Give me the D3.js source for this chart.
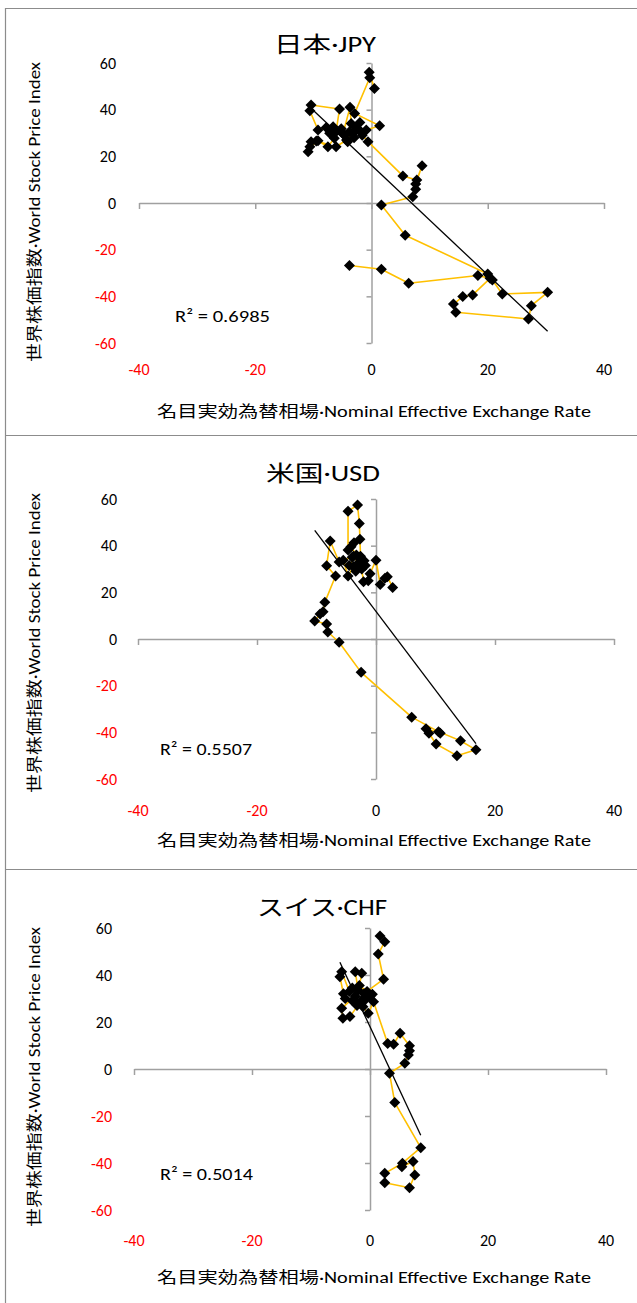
<!DOCTYPE html>
<html>
<head>
<meta charset="utf-8">
<script src="https://cdn.jsdelivr.net/npm/d3@7"></script>
<style>
  html, body { margin: 0; padding: 0; background: #fff; }
  svg { display: block; }
  text { font-family: Carlito, Lato, "Noto Sans CJK JP", sans-serif; }
</style>
</head>
<body>
<svg id="chart" width="637" height="1303"></svg>
<script>
// Axis ticks shared by the three panels
const xTicks = [-40, -20, 0, 20, 40];
const yTicks = [-60, -40, -20, 0, 20, 40, 60];

const panelTitles = ["日本·JPY", "米国·USD", "スイス·CHF"];
const rSquared = ["0.6985", "0.5507", "0.5014"];
// Linear trendline coefficients (slope, intercept) per currency
const trendSlopes = [-2.35, -3.37, -5.37];
const trendIntercepts = [16.2, 11.8, 18.0];

const yTitle = "世界株価指数·World Stock Price Index";
const xTitle = "名目実効為替相場·Nominal Effective Exchange Rate";

// [nominal effective exchange rate change, world stock index change], in time order
const jpyPoints = [
  [0.5, 49.1], [-0.4, 56.0], [-0.3, 53.7], [-2.9, 38.4], [1.4, 33.1], [-0.9, 31.3],
  [-1.6, 29.0], [-2.1, 31.3], [-3.2, 29.8], [-2.0, 34.5], [-3.5, 34.1], [-3.7, 41.0],
  [-4.9, 29.8], [-3.8, 30.5], [-3.0, 28.0], [-4.6, 29.0], [-4.1, 26.3], [-5.2, 31.8],
  [-6.1, 30.5], [-5.5, 40.3], [-10.4, 42.0], [-10.6, 39.5], [-9.2, 31.3], [-7.8, 32.4],
  [-6.6, 32.7], [-6.9, 30.8], [-7.2, 29.9], [-6.4, 27.7], [-7.5, 24.1], [-9.2, 26.7],
  [-10.4, 26.3], [-10.6, 24.1], [-10.9, 22.0], [-9.5, 26.6], [-6.1, 24.1], [-4.3, 27.0],
  [-2.6, 32.0], [-0.6, 26.3], [5.4, 11.6], [7.8, 9.9], [8.7, 16.0], [7.6, 8.1],
  [7.6, 5.9], [7.1, 2.7], [1.7, -0.9], [5.8, -13.8], [20.0, -30.4], [20.8, -33.0],
  [22.5, -39.0], [30.3, -38.3], [27.5, -44.0], [27.0, -49.7], [14.5, -46.8], [14.1, -43.3],
  [15.7, -40.1], [17.4, -39.4], [20.4, -32.3], [18.3, -31.1], [6.4, -34.4], [1.7, -28.4],
  [-3.8, -26.8]
];

const usdPoints = [
  [2.8, 22.1], [1.9, 26.7], [1.5, 26.0], [0.7, 23.4], [0.0, 33.8], [-1.0, 28.0],
  [-1.3, 25.0], [-2.1, 24.5], [-2.4, 30.0], [-3.4, 29.0], [-3.8, 31.0], [-4.7, 27.0],
  [-5.5, 33.8], [-4.0, 35.0], [-3.8, 35.5], [-3.0, 32.5], [-1.8, 31.5], [-2.0, 33.5],
  [-2.6, 35.5], [-2.7, 42.7], [-2.8, 49.5], [-3.1, 57.4], [-4.7, 54.8], [-4.7, 38.1],
  [-3.7, 41.2], [-4.2, 39.5], [-3.3, 36.0], [-4.5, 31.5], [-6.2, 33.0], [-7.7, 42.0],
  [-8.3, 31.4], [-6.8, 27.0], [-8.6, 15.7], [-8.9, 11.7], [-9.4, 10.7], [-10.3, 7.7],
  [-8.3, 6.4], [-8.1, 3.0], [-6.2, -1.4], [-2.5, -14.3], [6.0, -33.5], [10.5, -39.7],
  [14.2, -43.6], [16.8, -47.5], [13.6, -50.0], [10.1, -45.0], [8.9, -40.4], [8.4, -38.5],
  [10.8, -40.4]
];

const chfPoints = [
  [1.7, 56.6], [2.5, 54.2], [1.4, 48.9], [2.3, 38.2], [-0.5, 33.0], [-1.8, 35.5],
  [-1.4, 40.7], [-2.5, 41.4], [-2.0, 33.5], [-3.0, 34.5], [-3.5, 33.0], [-4.8, 41.4],
  [-5.1, 39.3], [-4.5, 32.0], [-4.2, 30.0], [-3.0, 29.0], [-2.5, 31.0], [-4.8, 25.8],
  [-4.6, 21.6], [-3.4, 22.3], [-1.5, 29.0], [-1.0, 32.0], [0.4, 31.8], [0.0, 31.0],
  [-0.8, 29.5], [-2.2, 27.0], [-1.2, 26.5], [-0.3, 23.7], [0.6, 28.6], [3.0, 10.9],
  [4.0, 10.5], [5.1, 15.2], [6.7, 9.9], [6.7, 7.8], [6.5, 6.0], [5.9, 2.4],
  [3.3, -1.8], [4.2, -14.3], [8.6, -33.5], [5.5, -40.1], [2.5, -44.4], [2.5, -48.4],
  [6.7, -50.5], [7.6, -45.1], [7.3, -39.4], [5.4, -41.6]
];

const panelData = [jpyPoints, usdPoints, chfPoints];

// Pixel layout of each panel
const panels = [
  { x0: 139, x1: 604, yTop: 63, yBot: 343, titleY: 52, titleX: 325, titleW: 102,
    yLabelX: 116, xLabelY: 375, xTitleY: 417, yTitleCY: 212, rX: 175, rY: 322, rW: 95 },
  { x0: 138, x1: 614, yTop: 499, yBot: 779, titleY: 481, titleX: 323, titleW: 114,
    yLabelX: 117, xLabelY: 816, xTitleY: 846, yTitleCY: 643, rX: 160, rY: 755, rW: 92 },
  { x0: 134, x1: 606, yTop: 928, yBot: 1210, titleY: 915, titleX: 322, titleW: 130,
    yLabelX: 112, xLabelY: 1246, xTitleY: 1283, yTitleCY: 1077, rX: 160, rY: 1180, rW: 93 }
];

const svg = d3.select("#chart");
const axisColor = "#a0a0a0";
const frameColor = "#8c8c8c";

// Panel frames
const frame = svg.append("g").attr("stroke", frameColor).attr("stroke-width", 1.2).attr("fill", "none");
frame.append("line").attr("x1", 5.5).attr("x2", 5.5).attr("y1", 8).attr("y2", 1303);
[8.5, 435.5, 869.5].forEach(y =>
  frame.append("line").attr("x1", 5).attr("x2", 637).attr("y1", y).attr("y2", y));

const diamond = r => `M0,${-r}L${r},0L0,${r}L${-r},0Z`;

panels.forEach((p, i) => {
  const pts = panelData[i];
  const x = d3.scaleLinear().domain([-40, 40]).range([p.x0, p.x1]);
  const y = d3.scaleLinear().domain([-60, 60]).range([p.yBot, p.yTop]);
  const g = svg.append("g");

  // Title
  g.append("text")
    .attr("x", p.titleX).attr("y", p.titleY)
    .attr("text-anchor", "middle")
    .attr("font-size", 22)
    .attr("textLength", p.titleW).attr("lengthAdjust", "spacingAndGlyphs")
    .attr("fill", "#000")
    .text(panelTitles[i]);

  // Axes crossing at the origin
  const xAxis = d3.axisBottom(x).tickValues(xTicks).tickSize(6).tickSizeOuter(0).tickFormat("");
  const yAxis = d3.axisLeft(y).tickValues(yTicks).tickSize(5).tickSizeOuter(0).tickFormat("");
  const gx = g.append("g").attr("transform", `translate(0,${y(0)})`).call(xAxis);
  const gy = g.append("g").attr("transform", `translate(${x(0)},0)`).call(yAxis);
  [gx, gy].forEach(a => {
    a.selectAll("path, line").attr("stroke", axisColor).attr("stroke-width", 1.5);
  });

  // Tick labels sit at the plot edges
  g.append("g").selectAll("text").data(xTicks).join("text")
    .attr("x", d => x(d)).attr("y", p.xLabelY)
    .attr("text-anchor", "middle").attr("font-size", 16)
    .attr("fill", d => d < 0 ? "#ff0000" : "#000")
    .text(d => d);
  g.append("g").selectAll("text").data(yTicks).join("text")
    .attr("x", p.yLabelX).attr("y", d => y(d) + 5.5)
    .attr("text-anchor", "end").attr("font-size", 16)
    .attr("fill", d => d < 0 ? "#ff0000" : "#000")
    .text(d => d);

  // Axis titles
  g.append("text")
    .attr("x", 374).attr("y", p.xTitleY)
    .attr("text-anchor", "middle").attr("font-size", 15.5)
    .attr("textLength", 434).attr("lengthAdjust", "spacingAndGlyphs")
    .text(xTitle);
  g.append("text")
    .attr("transform", `translate(40,${p.yTitleCY}) rotate(-90)`)
    .attr("text-anchor", "middle").attr("font-size", 15.5)
    .attr("textLength", 300).attr("lengthAdjust", "spacingAndGlyphs")
    .text(yTitle);

  // Connecting path through time
  g.append("path")
    .datum(pts)
    .attr("fill", "none").attr("stroke", "#ffc000").attr("stroke-width", 1.6)
    .attr("stroke-linejoin", "round")
    .attr("d", d3.line().x(d => x(d[0])).y(d => y(d[1])));

  // Markers
  g.append("g").selectAll("path").data(pts).join("path")
    .attr("transform", d => `translate(${x(d[0])},${y(d[1])})`)
    .attr("d", diamond(5.5))
    .attr("fill", "#000");

  // Linear trendline over the data's x range
  const [xmin, xmax] = d3.extent(pts, d => d[0]);
  const f = v => trendSlopes[i] * v + trendIntercepts[i];
  g.append("line")
    .attr("x1", x(xmin)).attr("y1", y(f(xmin)))
    .attr("x2", x(xmax)).attr("y2", y(f(xmax)))
    .attr("stroke", "#000").attr("stroke-width", 1.3);

  // R squared
  g.append("text")
    .attr("x", p.rX).attr("y", p.rY)
    .attr("font-size", 17)
    .attr("textLength", p.rW).attr("lengthAdjust", "spacingAndGlyphs")
    .attr("fill", "#000")
    .text(`R² = ${rSquared[i]}`);
});
</script>
</body>
</html>
